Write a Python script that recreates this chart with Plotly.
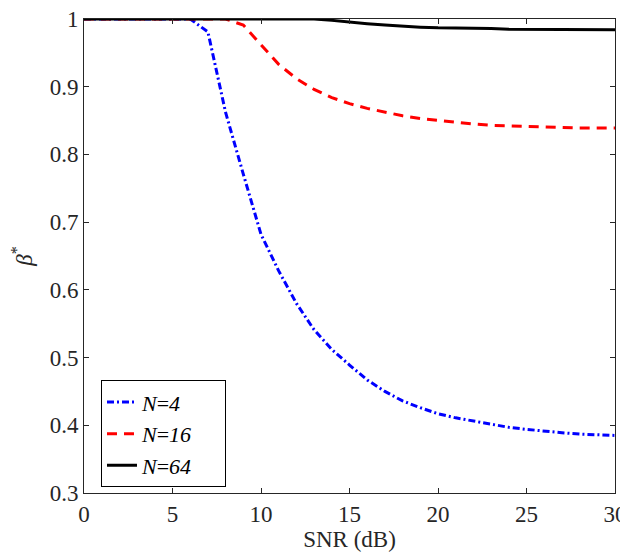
import plotly.graph_objects as go

snr = list(range(0, 31))

beta_n4 = [1.0, 1.0, 1.0, 1.0, 1.0, 1.0, 1.0, 0.981, 0.862, 0.771,
           0.682, 0.628, 0.580, 0.541, 0.512, 0.489, 0.467, 0.450, 0.436, 0.426,
           0.417, 0.411, 0.406, 0.401, 0.397, 0.394, 0.391, 0.389, 0.387, 0.386,
           0.385]
beta_n16 = [1.0, 1.0, 1.0, 1.0, 1.0, 1.0, 1.0, 1.0, 1.0, 0.991,
            0.962, 0.933, 0.912, 0.896, 0.884, 0.875, 0.868, 0.862, 0.857, 0.853,
            0.850, 0.847, 0.845, 0.843, 0.842, 0.841, 0.840, 0.840, 0.839, 0.839,
            0.839]
beta_n64 = [1.0, 1.0, 1.0, 1.0, 1.0, 1.0, 1.0, 1.0, 1.0, 1.0,
            1.0, 1.0, 1.0, 1.0, 0.998, 0.995, 0.993, 0.991, 0.989, 0.988,
            0.987, 0.987, 0.986, 0.986, 0.985, 0.985, 0.985, 0.984, 0.984, 0.984,
            0.984]

xticks = [0, 5, 10, 15, 20, 25, 30]
yticks = [0.3, 0.4, 0.5, 0.6, 0.7, 0.8, 0.9, 1.0]
ylabels = ["0.3", "0.4", "0.5", "0.6", "0.7", "0.8", "0.9", "1"]

# page body has an 8px margin, so the figure is 8px smaller than the window
font = "Liberation Serif, Times New Roman, serif"
axcol = "#262626"
pad = "&nbsp;" * 5  # widen legend box a bit

fig = go.Figure()
fig.add_trace(go.Scatter(x=snr, y=beta_n4, mode="lines", name="<i>N</i>=<i>4</i>" + pad,
                         line=dict(color="#0000ff", width=3, dash="7px,3px,2px,3px")))
fig.add_trace(go.Scatter(x=snr, y=beta_n16, mode="lines", name="<i>N</i>=<i>16</i>" + pad,
                         line=dict(color="#ff0000", width=3, dash="10px,7px")))
fig.add_trace(go.Scatter(x=snr, y=beta_n64, mode="lines", name="<i>N</i>=<i>64</i>" + pad,
                         line=dict(color="#000000", width=3)))

axis_common = dict(showline=True, mirror="ticks", linecolor=axcol, linewidth=1,
                   ticks="inside", ticklen=5, tickcolor=axcol, tickwidth=1,
                   showgrid=False, zeroline=False, automargin=False,
                   ticklabeloverflow="allow",
                   tickfont=dict(family=font, size=23, color=axcol))

fig.update_layout(
    width=620, height=548,
    margin=dict(l=76, r=13, t=11, b=63),
    plot_bgcolor="white", paper_bgcolor="white",
    font=dict(family=font, size=23, color=axcol),
    xaxis=dict(range=[0, 30], tickvals=xticks,
               title=dict(text="SNR (dB)", font=dict(family=font, size=23, color=axcol), standoff=5),
               **axis_common),
    yaxis=dict(range=[0.3, 1.0], tickvals=yticks, ticktext=ylabels,
               title=dict(text="<i>β</i><sup>*</sup>", font=dict(family=font, size=23, color=axcol), standoff=12),
               **axis_common),
    legend=dict(x=0.032, y=0.012, xanchor="left", yanchor="bottom",
                bgcolor="white", bordercolor="#000000", borderwidth=1,
                font=dict(family=font, size=22, color="#000000"),
                tracegroupgap=0),
    showlegend=True,
)

fig.write_html("out.html")
